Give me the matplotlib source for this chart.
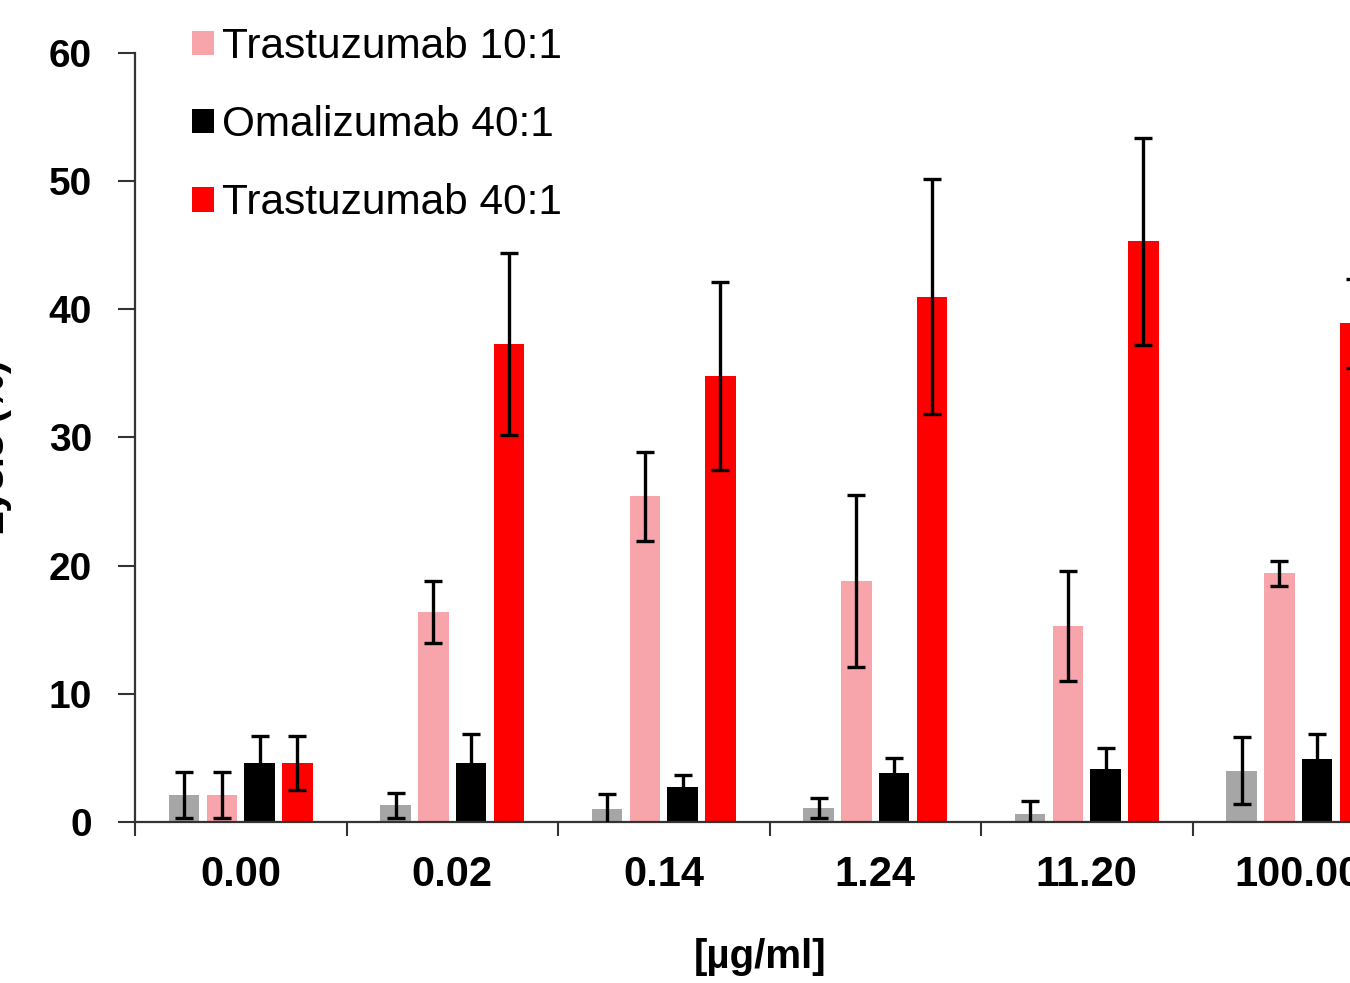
import matplotlib
matplotlib.use("Agg")
import matplotlib.pyplot as plt
import numpy as np
from matplotlib.patches import Patch

plt.rcParams['font.family'] = ['Liberation Sans', 'DejaVu Sans']

categories = ["0.00", "0.02", "0.14", "1.24", "11.20", "100.00"]
series_names = ["Omalizumab 10:1", "Trastuzumab 10:1", "Omalizumab 40:1", "Trastuzumab 40:1"]
omal10 = [2.1, 1.3, 1.0, 1.1, 0.6, 4.0]
omal10_err = [1.8, 1.0, 1.2, 0.8, 1.0, 2.6]
tras10 = [2.1, 16.4, 25.4, 18.8, 15.3, 19.4]
tras10_err = [1.8, 2.4, 3.5, 6.7, 4.3, 1.0]
omal40 = [4.6, 4.6, 2.7, 3.8, 4.1, 4.9]
omal40_err = [2.1, 2.3, 1.0, 1.2, 1.7, 2.0]
tras40 = [4.6, 37.3, 34.8, 41.0, 45.3, 38.9]
tras40_err = [2.1, 7.1, 7.3, 9.2, 8.1, 3.5]
colors = ["#a6a6a6", "#f7a4aa", "#000000", "#ff0000"]
yticks = [0, 10, 20, 30, 40, 50, 60]

fig = plt.figure(figsize=(13.5, 9.83), dpi=100)
ax = fig.add_axes([0.1, 0.1638, 0.94, 0.7823])

x = np.arange(len(categories))
offsets = [-0.268, -0.089, 0.089, 0.268]
width = 0.145
vals = [omal10, tras10, omal40, tras40]
errs = [omal10_err, tras10_err, omal40_err, tras40_err]
for v, e, c, off, name in zip(vals, errs, colors, offsets, series_names):
    ax.bar(x + off, v, width=width, color=c, zorder=2, label=name)
    ax.errorbar(x + off, v, yerr=e, fmt='none', ecolor='black',
                elinewidth=2.4, capsize=6.5, capthick=2.4, zorder=3)

ax.set_xlim(-0.5, 5.5)
ax.set_ylim(0, 60)
ax.set_yticks(yticks)
ax.set_yticklabels([str(t) for t in yticks], fontsize=28, fontweight='bold')
ax.set_xticks(x)
ax.set_xticklabels(categories, fontsize=30, fontweight='bold')
ax.set_xticks(np.arange(-0.5, 6.0, 1.0), minor=True)
ax.tick_params(axis='x', which='major', length=0, pad=23.5)
ax.tick_params(axis='x', which='minor', length=10, width=1.5, direction='out', color='#333333')
ax.tick_params(axis='y', length=12, width=1.5, direction='out', pad=19, color='#333333')
for s in ['top', 'right']:
    ax.spines[s].set_visible(False)
for s in ['left', 'bottom']:
    ax.spines[s].set_linewidth(1.6)
    ax.spines[s].set_color('#333333')

fig.text(760 / 1350, 1 - 957 / 983, "[µg/ml]", fontsize=29, fontweight='bold',
         ha='center', va='center')
fig.text(-7 / 1350, 1 - 447 / 983, "Lysis (%)", fontsize=29, fontweight='bold',
         ha='center', va='center', rotation=90)

handles = [Patch(facecolor=colors[i], edgecolor='none') for i in (1, 2, 3)]
labels = [series_names[i] for i in (1, 2, 3)]
leg = fig.legend(handles, labels, loc='upper left', bbox_to_anchor=(192 / 1350, 1 - 27 / 983),
                 frameon=False, fontsize=30.5, handlelength=0.52, handleheight=0.52,
                 handletextpad=0.2, labelspacing=0.9, borderaxespad=0, borderpad=0)

fig.savefig("out.png", dpi=100)
